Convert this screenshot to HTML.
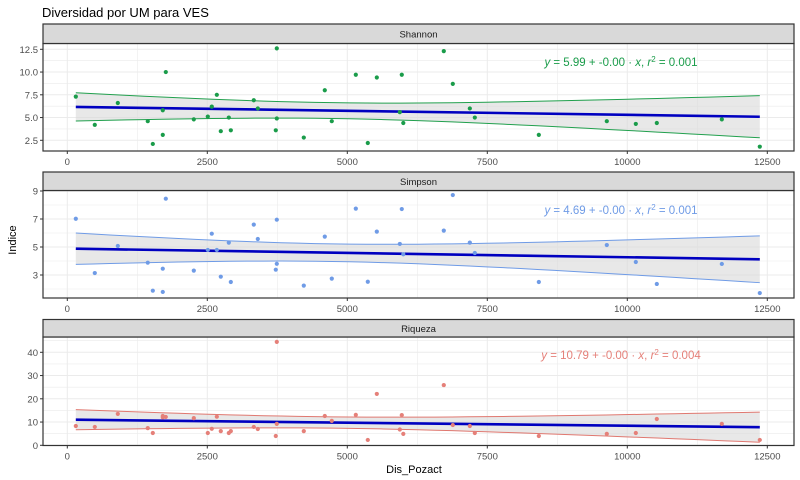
<!DOCTYPE html>
<html><head><meta charset="utf-8"><style>
body{margin:0;background:#fff;}
svg{display:block;font-family:"Liberation Sans",sans-serif;}
</style></head><body>
<svg id="chart" width="800" height="480" viewBox="0 0 800 480" xmlns="http://www.w3.org/2000/svg">
<rect width="800" height="480" fill="#fff"/>
<text x="42" y="17" font-size="13" fill="#000">Diversidad por UM para VES</text>
<text x="16" y="240" font-size="11" fill="#000" text-anchor="middle" transform="rotate(-90 16 240)">Indice</text>
<text x="414" y="473" font-size="11" fill="#000" text-anchor="middle">Dis_Pozact</text>
<g id="panels"></g>
</svg>
<script>
const sites = [152,491,902,1437,1527,1705,1705,1759,2259,2509,2580,2670,2741,2884,2920,3330,3402,3723,3741,3741,4223,4598,4723,5152,5366,5527,5938,5973,6000,6723,6884,7188,7277,8420,9634,10152,10527,11688,12366];
const shannon = [7.3,4.2,6.6,4.6,2.1,3.1,5.8,10.0,4.8,5.1,6.2,7.5,3.5,5.0,3.6,6.9,6.0,3.6,4.9,12.6,2.8,8.0,4.6,9.7,2.2,9.4,5.6,9.7,4.4,12.3,8.7,6.0,5.0,3.1,4.6,4.3,4.4,4.8,1.8];
const simpson = [7.02,3.14,5.07,3.88,1.88,3.45,1.79,8.45,3.31,4.79,5.95,4.79,2.88,5.31,2.5,6.6,5.57,3.38,3.8,6.95,2.24,5.74,2.74,7.74,2.52,6.1,5.22,7.71,4.48,6.17,8.71,5.31,4.57,2.5,5.14,3.93,2.36,3.79,1.71];
const riqueza = [8.3,7.9,13.5,7.4,5.3,12.6,12.0,12.2,11.7,5.3,7.1,12.3,6.1,5.3,6.1,7.9,7.0,4.0,9.2,44.5,6.1,12.6,10.5,13.1,2.3,22.1,6.8,13.0,4.9,25.9,8.7,8.3,5.3,4.0,4.9,5.3,11.3,9.2,2.3];
const xTicks = [0,2500,5000,7500,10000,12500];
const shannonTicks = [2.5,5.0,7.5,10.0,12.5];
const simpsonTicks = [3,5,7,9];
const riquezaTicks = [0,10,20,30,40];
const equations = ["5.99","4.69","10.79"];
const rsq = ["0.001","0.001","0.004"];

const NS="http://www.w3.org/2000/svg";
const root=document.getElementById('panels');
function mk(tag,attrs,parent){const e=document.createElementNS(NS,tag);for(const k in attrs)e.setAttribute(k,attrs[k]);(parent||root).appendChild(e);return e;}
const L=43,R=794;
function xs(v){return 67.3+v*(140/2500);}
const panels=[
 {name:'Shannon',vals:shannon,ticks:shannonTicks,fmt:v=>v.toFixed(1),color:'#1a9c4a',line:'#22a04e',st:24,sb:43.5,pb:151,a:[12.5,49.3],b:[2.5,140.3],eqY:66},
 {name:'Simpson',vals:simpson,ticks:simpsonTicks,fmt:v=>String(v),color:'#6f9be6',line:'#6f9be6',st:172,sb:190.5,pb:298,a:[9,191],b:[3,275],eqY:214},
 {name:'Riqueza',vals:riqueza,ticks:riquezaTicks,fmt:v=>String(v),color:'#e58079',line:'#e07870',st:319.5,sb:337,pb:445.5,a:[40,352.3],b:[0,445.3],eqY:359}
];
panels.forEach((p,pi)=>{
 const ys=v=>p.a[1]+(v-p.a[0])*(p.b[1]-p.a[1])/(p.b[0]-p.a[0]);
 const inv=y=>p.a[0]+(y-p.a[1])*(p.b[0]-p.a[0])/(p.b[1]-p.a[1]);
 const g=mk('g',{});
 
 
 const top=p.sb,bot=p.pb;
 // grid
 const yTop=inv(top),yBot=inv(bot);
 const step=p.ticks[1]-p.ticks[0];
 for(let v=p.ticks[0]-step/2;v<=yTop;v+=step/2){ if(v<yBot) continue;
  const isMaj=p.ticks.some(t=>Math.abs(t-v)<1e-6);
  mk('line',{x1:L,x2:R,y1:ys(v),y2:ys(v),stroke:'#ebebeb','stroke-width':isMaj?1:0.6},g);}
 for(let v=-1250;v<=13750;v+=1250){const x=xs(v); if(x<L||x>R) continue;
  mk('line',{x1:x,x2:x,y1:top,y2:bot,stroke:'#ebebeb','stroke-width':(v%2500===0)?1:0.6},g);}
 // regression
 const n=sites.length;const mx=sites.reduce((s,v)=>s+v,0)/n;const my=p.vals.reduce((s,v)=>s+v,0)/n;
 let sxx=0,sxy=0;for(let i=0;i<n;i++){sxx+=(sites[i]-mx)**2;sxy+=(sites[i]-mx)*(p.vals[i]-my);}
 const b1=sxy/sxx,b0=my-b1*mx;let sse=0;for(let i=0;i<n;i++)sse+=(p.vals[i]-b0-b1*sites[i])**2;
 const se=Math.sqrt(sse/(n-2));const t=2.026;
 const x0=Math.min(...sites),x1=Math.max(...sites);
 const up=[],lo=[];
 for(let k=0;k<=40;k++){const xv=x0+(x1-x0)*k/40;const f=b0+b1*xv;const h=t*se*Math.sqrt(1/n+(xv-mx)**2/sxx);
  up.push([xs(xv),ys(f+h)]);lo.push([xs(xv),ys(f-h)]);}
 const band=mk('polygon',{points:up.concat(lo.slice().reverse()).map(q=>q.join(',')).join(' '),fill:'#d9d9d9','fill-opacity':0.6},g);
 
 
 mk('polyline',{points:up.map(q=>q.join(',')).join(' '),fill:'none',stroke:p.line,'stroke-width':1},g);
 mk('polyline',{points:lo.map(q=>q.join(',')).join(' '),fill:'none',stroke:p.line,'stroke-width':1},g);
 const rl=mk('line',{x1:xs(x0),x2:xs(x1),y1:ys(b0+b1*x0),y2:ys(b0+b1*x1),stroke:'#0000c0','stroke-width':2.6},g);
 
 
 // points
 for(let i=0;i<n;i++){const c=mk('circle',{cx:xs(sites[i]),cy:ys(p.vals[i]),r:2.1,fill:p.color},g);
  
  }
 // equation
 const eq=mk('text',{x:621,y:p.eqY,'font-size':11.5,fill:p.color,'text-anchor':'middle'},g);
 
 
 eq.innerHTML='<tspan font-style="italic">y</tspan> = '+equations[pi]+' + -0.00 · <tspan font-style="italic">x</tspan>,  <tspan font-style="italic">r</tspan><tspan dy="-4" font-size="8">2</tspan><tspan dy="4"> = '+rsq[pi]+'</tspan>';
 // border
 mk('rect',{x:L,y:top,width:R-L,height:bot-top,fill:'none',stroke:'#333','stroke-width':1.2},g);
 const strip=mk('rect',{x:L,y:p.st,width:R-L,height:p.sb-p.st,fill:'#d9d9d9',stroke:'#333','stroke-width':1.2},g);
 
 
 const stt=mk('text',{x:(L+R)/2,y:(p.st+p.sb)/2+3.5,'font-size':9.5,fill:'#1a1a1a','text-anchor':'middle'},g);
 stt.textContent=p.name;
 
 
 // y ticks
 p.ticks.forEach(v=>{const y=ys(v);mk('line',{x1:L-3,x2:L,y1:y,y2:y,stroke:'#333'},g);
  const tt=mk('text',{x:L-5,y:y+3.5,'font-size':9.5,fill:'#4d4d4d','text-anchor':'end'},g);tt.textContent=p.fmt(v);
  
  });
 // x ticks
 xTicks.forEach(v=>{const x=xs(v);mk('line',{x1:x,x2:x,y1:bot,y2:bot+3,stroke:'#333'},g);
  const tt=mk('text',{x:x,y:bot+14,'font-size':9.5,fill:'#4d4d4d','text-anchor':'middle'},g);tt.textContent=String(v);
  
  });
});
</script>
</body></html>
